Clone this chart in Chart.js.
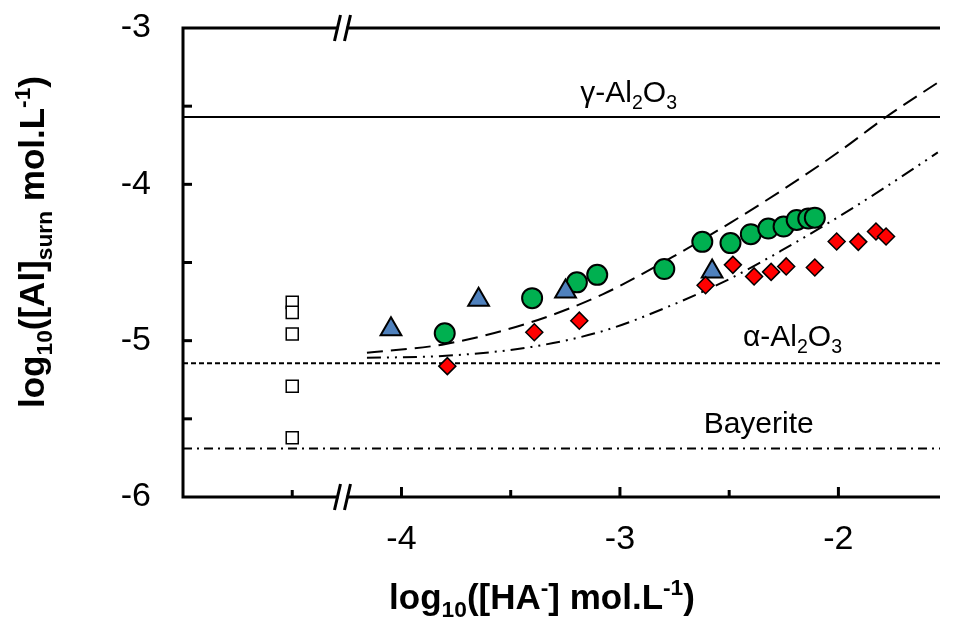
<!DOCTYPE html>
<html>
<head>
<meta charset="utf-8">
<script src="https://cdn.jsdelivr.net/npm/chart.js@4.4.0/dist/chart.umd.min.js"></script>
<style>
  html, body { margin: 0; padding: 0; background: #fff; overflow: hidden; }
  #wrap { width: 954px; height: 619px; }
  canvas { display: block; }
</style>
</head>
<body>
<div id="wrap"><canvas id="chart"></canvas></div>
<script>
// open squares: no HA- added, shown left of the axis break
var blankX = [-4.5, -4.5, -4.5, -4.5, -4.5];
var blankY = [-4.755, -4.819, -4.957, -5.291, -5.621];

var triX = [-4.048, -3.647, -3.249, -2.578];
var triY = [-4.927, -4.739, -4.686, -4.558];

var circX = [-3.802, -3.402, -3.197, -3.104, -2.797, -2.623, -2.494, -2.401, -2.321, -2.251, -2.191, -2.138, -2.108];
var circY = [-4.953, -4.728, -4.627, -4.579, -4.542, -4.368, -4.376, -4.319, -4.283, -4.270, -4.228, -4.219, -4.213];

var diaX = [-3.790, -3.392, -3.186, -2.608, -2.483, -2.386, -2.308, -2.239, -2.108, -2.008, -1.909, -1.828, -1.782];
var diaY = [-5.163, -4.946, -4.872, -4.645, -4.515, -4.589, -4.560, -4.525, -4.532, -4.366, -4.368, -4.302, -4.334];

// model curves
var modelX = [-4.158, -3.797, -3.405, -3.077, -2.761, -2.491, -2.266, -1.995, -1.779, -1.545];
var model1Y = [-5.078, -5.021, -4.881, -4.702, -4.466, -4.243, -4.045, -3.789, -3.566, -3.349];
var model2Y = [-5.110, -5.097, -5.040, -4.938, -4.772, -4.600, -4.428, -4.204, -4.013, -3.796];

// solubility of the phases
var phaseY = [-3.57, -5.145, -5.69];

var xMin = -5, xMax = -1.535, yMin = -6, yMax = -3;
var xTickLabels = [-4, -3, -2];
var yTickLabels = [-6, -5, -4, -3];
var xTickMarks = [-4.5, -4, -3.5, -3, -2.5, -2];
var yTickMarks = [-5.5, -5, -4.5, -4, -3.5];
var breakX = -4.27;

var FONT = "'Liberation Sans', Arial, sans-serif";

function pts(xs, ys) {
  return xs.map(function (x, i) { return { x: x, y: ys[i] }; });
}
function hline(v) {
  return [{ x: xMin, y: v }, { x: xMax, y: v }];
}

// draws text with sub (-1) / super (1) script parts
function richText(ctx, parts, x, y, size, bold) {
  var w = 0;
  var fontOf = function (p) {
    var s = p[1] === 0 ? size : size * 0.65;
    return (bold ? 'bold ' : '') + s + 'px ' + FONT;
  };
  parts.forEach(function (p) { ctx.font = fontOf(p); w += ctx.measureText(p[0]).width; });
  var cx = x - w / 2;
  ctx.textAlign = 'left';
  ctx.textBaseline = 'alphabetic';
  parts.forEach(function (p) {
    ctx.font = fontOf(p);
    var dy = p[1] === -1 ? size * 0.22 : (p[1] === 1 ? -size * 0.4 : 0);
    ctx.fillText(p[0], cx, y + dy);
    cx += ctx.measureText(p[0]).width;
  });
}

var decor = {
  id: 'decor',
  afterDraw: function (chart) {
    var ctx = chart.ctx, a = chart.chartArea;
    var xs = chart.scales.x, ys = chart.scales.y;
    ctx.save();
    ctx.fillStyle = '#000';
    ctx.strokeStyle = '#000';
    // frame
    ctx.lineWidth = 3;
    ctx.beginPath();
    ctx.moveTo(a.right, a.top); ctx.lineTo(a.left, a.top);
    ctx.lineTo(a.left, a.bottom); ctx.lineTo(a.right, a.bottom);
    ctx.stroke();
    // inward ticks
    xTickMarks.forEach(function (v) {
      var px = xs.getPixelForValue(v);
      var len = Number.isInteger(v) ? 10 : 7;
      ctx.beginPath(); ctx.moveTo(px, a.bottom); ctx.lineTo(px, a.bottom - len); ctx.stroke();
    });
    yTickMarks.forEach(function (v) {
      var py = ys.getPixelForValue(v);
      ctx.beginPath(); ctx.moveTo(a.left, py); ctx.lineTo(a.left + 9, py); ctx.stroke();
    });
    // axis break marks
    var bx = xs.getPixelForValue(breakX);
    [a.top, a.bottom].forEach(function (yy) {
      ctx.fillStyle = '#fff';
      ctx.fillRect(bx - 4, yy - 3, 8, 6);
      [-5, 5].forEach(function (off) {
        ctx.beginPath();
        ctx.moveTo(bx + off - 3, yy + 13);
        ctx.lineTo(bx + off + 3, yy - 13);
        ctx.stroke();
      });
    });
    ctx.fillStyle = '#000';
    // phase labels
    richText(ctx, [['γ-Al', 0], ['2', -1], ['O', 0], ['3', -1]],
      xs.getPixelForValue(-2.96), ys.getPixelForValue(phaseY[0]) - 15, 30, false);
    richText(ctx, [['α-Al', 0], ['2', -1], ['O', 0], ['3', -1]],
      xs.getPixelForValue(-2.21), ys.getPixelForValue(phaseY[1]) - 17, 30, false);
    richText(ctx, [['Bayerite', 0]],
      xs.getPixelForValue(-2.365), ys.getPixelForValue(phaseY[2]) - 16, 30, false);
    // axis titles
    richText(ctx, [['log', 0], ['10', -1], ['([HA', 0], ['-', 1], ['] mol.L', 0], ['-1', 1], [')', 0]],
      542, 609, 35, true);
    ctx.translate(44, 242);
    ctx.rotate(-Math.PI / 2);
    richText(ctx, [['log', 0], ['10', -1], ['([Al]', 0], ['surn', -1], [' mol.L', 0], ['-1', 1], [')', 0]],
      0, 0, 35, true);
    ctx.restore();
  }
};

var markerBase = { showLine: false, pointBorderColor: '#000' };

new Chart(document.getElementById('chart'), {
  type: 'scatter',
  data: {
    datasets: [
      Object.assign({ data: pts(blankX, blankY), pointStyle: 'rect', pointRadius: 8.5,
        pointBackgroundColor: '#fff', pointBorderWidth: 1.5 }, markerBase),
      Object.assign({ data: pts(diaX, diaY), pointStyle: 'rectRot', pointRadius: 8.5,
        pointBackgroundColor: '#ff0000', pointBorderWidth: 1.5 }, markerBase),
      Object.assign({ data: pts(triX, triY), pointStyle: 'triangle', pointRadius: 12,
        pointBackgroundColor: '#4f81bd', pointBorderWidth: 2 }, markerBase),
      Object.assign({ data: pts(circX, circY), pointStyle: 'circle', pointRadius: 10,
        pointBackgroundColor: '#00b050', pointBorderWidth: 2 }, markerBase),
      { data: pts(modelX, model1Y), showLine: true, pointRadius: 0, borderColor: '#000',
        borderWidth: 2, borderDash: [16, 8], cubicInterpolationMode: 'monotone' },
      { data: pts(modelX, model2Y), showLine: true, pointRadius: 0, borderColor: '#000',
        borderWidth: 2, borderDash: [14, 6, 2, 6, 2, 6], cubicInterpolationMode: 'monotone' },
      { data: hline(phaseY[0]), showLine: true, pointRadius: 0, borderColor: '#000', borderWidth: 2 },
      { data: hline(phaseY[1]), showLine: true, pointRadius: 0, borderColor: '#000', borderWidth: 2,
        borderDash: [5, 3] },
      { data: hline(phaseY[2]), showLine: true, pointRadius: 0, borderColor: '#000', borderWidth: 2,
        borderDash: [9, 5, 2, 5] }
    ]
  },
  options: {
    responsive: true,
    maintainAspectRatio: false,
    animation: false,
    events: [],
    layout: { padding: { top: 28, right: -5, left: 0, bottom: 0 } },
    plugins: { legend: { display: false }, tooltip: { enabled: false } },
    scales: {
      x: {
        type: 'linear', min: xMin, max: xMax,
        grid: { display: false }, border: { display: false },
        afterBuildTicks: function (s) {
          s.ticks = xTickLabels.map(function (v) { return { value: v }; });
        },
        ticks: {
          padding: 14, color: '#000', maxRotation: 0, autoSkip: false,
          font: { family: FONT, size: 34 }
        },
        afterFit: function (s) {
          s.height = 122;
          s.paddingLeft = 0; s.paddingRight = 0;
        }
      },
      y: {
        type: 'linear', min: yMin, max: yMax,
        grid: { display: false }, border: { display: false },
        afterBuildTicks: function (s) {
          s.ticks = yTickLabels.map(function (v) { return { value: v }; });
        },
        ticks: {
          padding: 24, color: '#000', autoSkip: false,
          font: { family: FONT, size: 34 }
        },
        afterFit: function (s) {
          s.width = 183;
          s.paddingTop = 0; s.paddingBottom = 0;
        }
      }
    }
  },
  plugins: [decor]
});
</script>
</body>
</html>
